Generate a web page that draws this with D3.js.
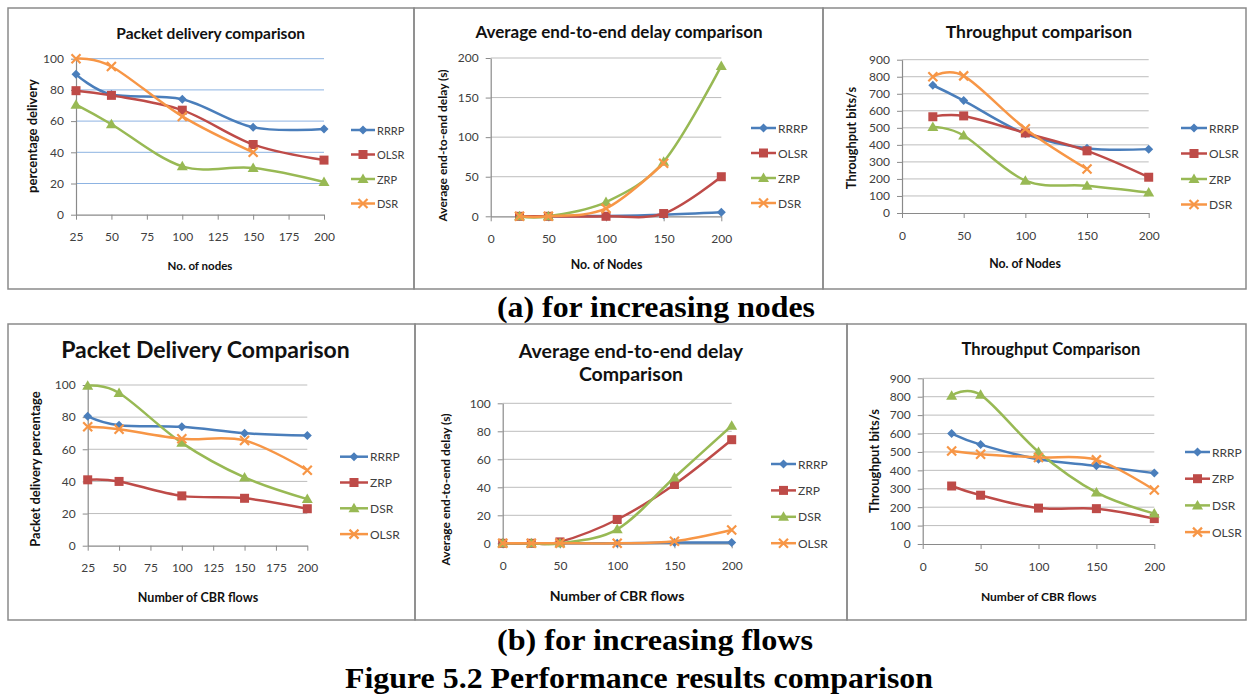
<!DOCTYPE html>
<html>
<head>
<meta charset="utf-8">
<script src="https://cdn.jsdelivr.net/npm/d3@7"></script>
<style>
  body { margin: 0; background: #fff; }
  svg text { font-family: Lato, "Open Sans", sans-serif; }
  .caption { font-family: "Liberation Serif", "Times New Roman", serif; font-weight: bold; }
</style>
</head>
<body>
<svg id="fig" width="1252" height="696"></svg>
<script>
// x values
const nodeCounts = [25, 50, 100, 150, 200];
const flowCounts = [25, 50, 100, 150, 200];
const delayFlowCounts = [0, 25, 50, 100, 150, 200];

// tick labels
const ticks25 = [25, 50, 75, 100, 125, 150, 175, 200];
const ticks50 = [0, 50, 100, 150, 200];
const pctTicks = [0, 20, 40, 60, 80, 100];
const delayTicksNodes = [0, 50, 100, 150, 200];
const throughputTicks = [0, 100, 200, 300, 400, 500, 600, 700, 800, 900];

// (a) for increasing nodes : packet delivery (%)
const pdNodesRRRP = [90, 77, 74, 56, 55];
const pdNodesOLSR = [79.5, 76.5, 67, 45, 35];
const pdNodesZRP = [70.5, 58, 31, 30, 21];
const pdNodesDSR = [100, 95, 63, 40];

// (a) average end-to-end delay (s)
const delayNodesRRRP = [0, 0, 0.5, 2, 5];
const delayNodesOLSR = [0, 0, 0, 3.5, 50];
const delayNodesZRP = [0, 0, 18, 69, 190];
const delayNodesDSR = [0, 0, 10, 67];

// (a) throughput (bits/s)
const thrNodesRRRP = [750, 660, 465, 380, 375];
const thrNodesOLSR = [565, 570, 470, 365, 210];
const thrNodesZRP = [505, 455, 190, 160, 120];
const thrNodesDSR = [800, 805, 495, 258];

// (b) for increasing flows : packet delivery (%)
const pdFlowsRRRP = [80.5, 75, 74, 70, 68.5];
const pdFlowsZRP = [41, 40, 31, 29.5, 23];
const pdFlowsDSR = [99.5, 95, 64, 42.5, 29];
const pdFlowsOLSR = [74, 72.5, 66.5, 65.5, 47];

// (b) average end-to-end delay (s)
const delayFlowsRRRP = [0, 0, 0, 0, 0.5, 0.5];
const delayFlowsZRP = [0, 0, 1, 17, 42, 74];
const delayFlowsDSR = [0, 0, 0, 10, 47, 84];
const delayFlowsOLSR = [0, 0, 0, 0, 1.5, 9.5];

// (b) throughput (bits/s)
const thrFlowsRRRP = [600, 540, 460, 425, 385];
const thrFlowsZRP = [315, 265, 195, 192, 138];
const thrFlowsDSR = [805, 810, 500, 280, 165];
const thrFlowsOLSR = [505, 488, 470, 457, 293];

const seriesColors = ["#4A7EBB", "#BE4B48", "#98B954", "#F79646"];
const markerTypes = ["diamond", "square", "triangle", "cross"];

const svg = d3.select("#fig");
svg.append("rect").attr("width", 1252).attr("height", 696).attr("fill", "#fff");

// panel frames
const frames = [
  [8, 8, 414, 289], [414, 8, 823, 289], [823, 8, 1246, 289],
  [8, 324, 415, 620], [415, 324, 847, 620], [847, 324, 1246, 620]
];
svg.selectAll("rect.frame")
  .data(frames)
  .join("rect")
  .attr("class", "frame")
  .attr("x", (d) => d[0])
  .attr("y", (d) => d[1])
  .attr("width", (d) => d[2] - d[0])
  .attr("height", (d) => d[3] - d[1])
  .attr("fill", "none")
  .attr("stroke", "#8a8a8a")
  .attr("stroke-width", 1.5);

function marker(g, type, color, x, y) {
  if (type === "diamond") {
    g.append("path")
      .attr("d", `M${x},${y - 4.5}L${x + 4.5},${y}L${x},${y + 4.5}L${x - 4.5},${y}Z`)
      .attr("fill", color);
  } else if (type === "square") {
    g.append("rect")
      .attr("x", x - 4.5).attr("y", y - 4.5)
      .attr("width", 9).attr("height", 9)
      .attr("fill", color);
  } else if (type === "triangle") {
    g.append("path")
      .attr("d", `M${x},${y - 5.5}L${x + 5.5},${y + 4}L${x - 5.5},${y + 4}Z`)
      .attr("fill", color);
  } else {
    g.append("path")
      .attr("d", `M${x - 4.5},${y - 4.5}L${x + 4.5},${y + 4.5}M${x - 4.5},${y + 4.5}L${x + 4.5},${y - 4.5}`)
      .attr("stroke", color)
      .attr("stroke-width", 2.2)
      .attr("fill", "none");
  }
}

function drawPanel(cfg) {
  const g = svg.append("g");
  const x = d3.scaleLinear().domain(cfg.xDomain).range([cfg.left, cfg.right]);
  const y = d3.scaleLinear().domain(cfg.yDomain).range([cfg.bottom, cfg.top]);

  // gridlines
  g.selectAll("line.grid")
    .data(cfg.yTicks.filter((t) => t !== cfg.yDomain[0]))
    .join("line")
    .attr("x1", cfg.left)
    .attr("x2", cfg.right)
    .attr("y1", (d) => y(d))
    .attr("y2", (d) => y(d))
    .attr("stroke", cfg.gridColor)
    .attr("stroke-width", 1);

  const xAxis = g.append("g")
    .attr("transform", `translate(0, ${cfg.bottom})`)
    .call(d3.axisBottom(x).tickValues(cfg.xTicks).tickSize(5).tickPadding(13).tickSizeOuter(0));
  const yAxis = g.append("g")
    .attr("transform", `translate(${cfg.left}, 0)`)
    .call(d3.axisLeft(y).tickValues(cfg.yTicks).tickSize(5).tickPadding(7).tickSizeOuter(0));
  [xAxis, yAxis].forEach((a) => {
    a.select(".domain").attr("stroke", "#8a8a8a").attr("stroke-width", 1.2);
    a.selectAll(".tick line").attr("stroke", "#8a8a8a");
    a.selectAll(".tick text")
      .attr("fill", "#404040")
      .style("font-size", "12px")
      .style("font-family", "Lato, sans-serif");
  });

  // series
  const line = d3.line()
    .x((d) => x(d[0]))
    .y((d) => y(d[1]))
    .curve(d3.curveCardinal.tension(0));
  cfg.series.forEach((values, i) => {
    const pts = values.map((v, j) => [cfg.xValues[j], v]);
    g.append("path")
      .attr("d", line(pts))
      .attr("fill", "none")
      .attr("stroke", seriesColors[i])
      .attr("stroke-width", 2.5)
      .attr("stroke-linejoin", "round");
    pts.forEach((p) => marker(g, markerTypes[i], seriesColors[i], x(p[0]), y(p[1])));
  });

  // legend
  cfg.names.forEach((name, i) => {
    const ly = cfg.legend.y0 + i * cfg.legend.dy;
    g.append("line")
      .attr("x1", cfg.legend.x0).attr("x2", cfg.legend.x1)
      .attr("y1", ly).attr("y2", ly)
      .attr("stroke", seriesColors[i]).attr("stroke-width", 2.5);
    marker(g, markerTypes[i], seriesColors[i], (cfg.legend.x0 + cfg.legend.x1) / 2, ly);
    g.append("text")
      .attr("x", cfg.legend.x1 + 2).attr("y", ly)
      .attr("dominant-baseline", "central")
      .attr("fill", "#404040")
      .style("font-size", cfg.legend.size + "px")
      .text(name);
  });

  // titles
  cfg.title.lines.forEach((t, i) => {
    g.append("text")
      .attr("x", cfg.title.x).attr("y", cfg.title.y + i * cfg.title.lh)
      .attr("text-anchor", "middle")
      .attr("dominant-baseline", "central")
      .style("font-size", cfg.title.size + "px")
      .style("font-weight", "bold")
      .attr("fill", "#111")
      .text(t);
  });
  g.append("text")
    .attr("transform", `translate(${cfg.yLabel.x}, ${cfg.yLabel.y}) rotate(-90)`)
    .attr("text-anchor", "middle")
    .attr("dominant-baseline", "central")
    .style("font-size", cfg.yLabel.size + "px")
    .style("font-weight", "bold")
    .attr("fill", "#111")
    .text(cfg.yLabel.text);
  g.append("text")
    .attr("x", cfg.xLabel.x).attr("y", cfg.xLabel.y)
    .attr("text-anchor", "middle")
    .attr("dominant-baseline", "central")
    .style("font-size", cfg.xLabel.size + "px")
    .style("font-weight", "bold")
    .attr("fill", "#111")
    .text(cfg.xLabel.text);
}

const namesNodes = ["RRRP", "OLSR", "ZRP", "DSR"];
const namesFlows = ["RRRP", "ZRP", "DSR", "OLSR"];

drawPanel({
  left: 76, right: 324, top: 58.7, bottom: 214.7,
  xDomain: [25, 200], xTicks: ticks25, yDomain: [0, 100], yTicks: pctTicks,
  gridColor: "#8DB3E2", xValues: nodeCounts,
  series: [pdNodesRRRP, pdNodesOLSR, pdNodesZRP, pdNodesDSR], names: namesNodes,
  legend: { y0: 130, dy: 24.5, x0: 351, x1: 375, size: 11 },
  title: { lines: ["Packet delivery comparison"], x: 210.7, y: 33, size: 15.5, lh: 0 },
  yLabel: { text: "percentage delivery", x: 32, y: 136, size: 13 },
  xLabel: { text: "No. of  nodes", x: 200, y: 265, size: 11.5 }
});

drawPanel({
  left: 490.7, right: 721.3, top: 58, bottom: 216.3,
  xDomain: [0, 200], xTicks: ticks50, yDomain: [0, 200], yTicks: delayTicksNodes,
  gridColor: "#bdbdbd", xValues: nodeCounts,
  series: [delayNodesRRRP, delayNodesOLSR, delayNodesZRP, delayNodesDSR], names: namesNodes,
  legend: { y0: 128, dy: 25, x0: 751, x1: 776, size: 12 },
  title: { lines: ["Average end-to-end delay comparison"], x: 619, y: 31.3, size: 17, lh: 0 },
  yLabel: { text: "Average end-to-end delay (s)", x: 442.3, y: 145.5, size: 12 },
  xLabel: { text: "No. of Nodes", x: 606.5, y: 264.7, size: 12.3 }
});

drawPanel({
  left: 902, right: 1148.7, top: 59.7, bottom: 213,
  xDomain: [0, 200], xTicks: ticks50, yDomain: [0, 900], yTicks: throughputTicks,
  gridColor: "#bdbdbd", xValues: nodeCounts,
  series: [thrNodesRRRP, thrNodesOLSR, thrNodesZRP, thrNodesDSR], names: namesNodes,
  legend: { y0: 128, dy: 25.5, x0: 1181, x1: 1207, size: 12 },
  title: { lines: ["Throughput comparison"], x: 1039, y: 31.3, size: 17.5, lh: 0 },
  yLabel: { text: "Throughput bits/s", x: 851.3, y: 138, size: 12.8 },
  xLabel: { text: "No. of Nodes", x: 1025, y: 263, size: 12.3 }
});

drawPanel({
  left: 87.7, right: 307.3, top: 385, bottom: 545.7,
  xDomain: [25, 200], xTicks: ticks25, yDomain: [0, 100], yTicks: pctTicks,
  gridColor: "#bdbdbd", xValues: flowCounts,
  series: [pdFlowsRRRP, pdFlowsZRP, pdFlowsDSR, pdFlowsOLSR], names: namesFlows,
  legend: { y0: 456.7, dy: 25.8, x0: 340, x1: 368, size: 12 },
  title: { lines: ["Packet Delivery Comparison"], x: 205.5, y: 348.7, size: 23, lh: 0 },
  yLabel: { text: "Packet delivery percentage", x: 35.3, y: 469, size: 13 },
  xLabel: { text: "Number of CBR flows", x: 198, y: 597, size: 12.5 }
});

drawPanel({
  left: 502.7, right: 731.7, top: 403.3, bottom: 543.3,
  xDomain: [0, 200], xTicks: ticks50, yDomain: [0, 100], yTicks: pctTicks,
  gridColor: "#bdbdbd", xValues: delayFlowCounts,
  series: [delayFlowsRRRP, delayFlowsZRP, delayFlowsDSR, delayFlowsOLSR], names: namesFlows,
  legend: { y0: 464, dy: 26.4, x0: 771, x1: 796, size: 12 },
  title: { lines: ["Average end-to-end delay", "Comparison"], x: 631, y: 350.3, size: 19.5, lh: 23.4 },
  yLabel: { text: "Average end-to-end delay (s)", x: 445.7, y: 489.5, size: 12 },
  xLabel: { text: "Number of CBR flows", x: 617, y: 595.3, size: 14 }
});

drawPanel({
  left: 922.7, right: 1154.3, top: 378.3, bottom: 544,
  xDomain: [0, 200], xTicks: ticks50, yDomain: [0, 900], yTicks: throughputTicks,
  gridColor: "#bdbdbd", xValues: flowCounts,
  series: [thrFlowsRRRP, thrFlowsZRP, thrFlowsDSR, thrFlowsOLSR], names: namesFlows,
  legend: { y0: 452, dy: 26.7, x0: 1185, x1: 1210, size: 12 },
  title: { lines: ["Throughput Comparison"], x: 1051, y: 348.7, size: 16.5, lh: 0 },
  yLabel: { text: "Throughput bits/s", x: 873.7, y: 461, size: 13 },
  xLabel: { text: "Number of CBR flows", x: 1038.7, y: 596, size: 12 }
});

// captions: text, centre x, baseline y, measured width
const captions = [
  ["(a) for increasing nodes", 656, 317, 318],
  ["(b) for increasing flows", 655, 650, 316],
  ["Figure 5.2 Performance results comparison", 639, 688, 588]
];
svg.selectAll("text.caption")
  .data(captions)
  .join("text")
  .attr("class", "caption")
  .attr("x", (d) => d[1])
  .attr("y", (d) => d[2])
  .attr("text-anchor", "middle")
  .attr("textLength", (d) => d[3])
  .attr("lengthAdjust", "spacingAndGlyphs")
  .style("font-size", "29px")
  .attr("fill", "#000")
  .text((d) => d[0]);
</script>
</body>
</html>
